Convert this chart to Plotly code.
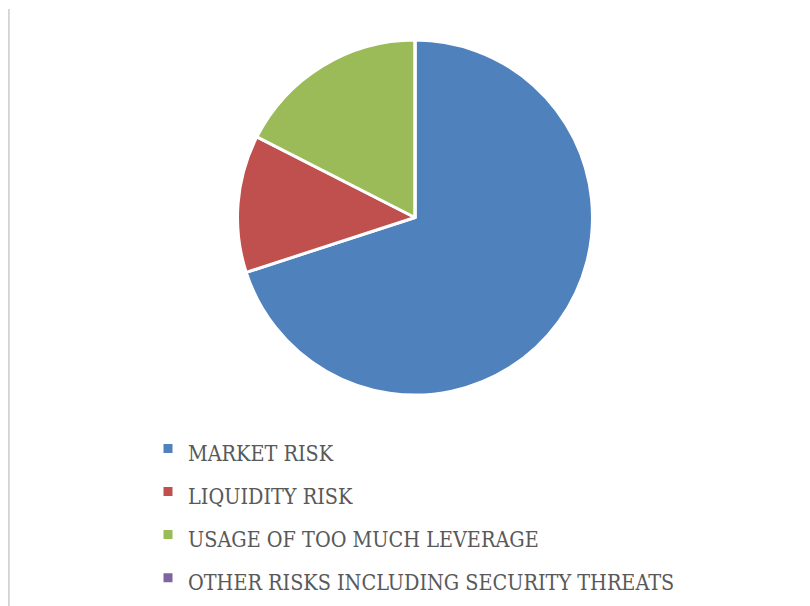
import plotly.graph_objects as go

labels = ["MARKET RISK", "LIQUIDITY RISK", "USAGE OF TOO MUCH LEVERAGE",
          "OTHER RISKS INCLUDING SECURITY THREATS"]
values = [70, 12.5, 17.5, 0]
colors = ["#4F81BD", "#C0504D", "#9BBB59", "#8064A2"]

W, H = 810, 606
TEXT_SIZE = 21.4  # visible legend text size; legend font size below sets the row spacing

legend_text = [f"<span style='font-size:{TEXT_SIZE}px;font-stretch:condensed'>{t}</span>"
               for t in labels]

fig = go.Figure(go.Pie(
    labels=legend_text, values=values, sort=False, direction="clockwise", rotation=0,
    marker=dict(colors=colors, line=dict(color="white", width=3)),
    textinfo="none", hoverinfo="value",
    domain=dict(x=[229.5 / W, 584.5 / W], y=[1 - 387 / H, 1 - 32 / H]),
))

fig.update_layout(
    width=W, height=H,
    margin=dict(l=0, r=0, t=0, b=0),
    paper_bgcolor="white",
    showlegend=True,
    legend=dict(
        x=140 / W, y=1 - 414 / H, xanchor="left", yanchor="top",
        font=dict(family="DejaVu Serif Condensed, DejaVu Serif", size=30.8,
                  color="#595959"),
        bgcolor="rgba(0,0,0,0)",
    ),
    shapes=[dict(type="line", xref="paper", yref="paper",
                 x0=0.8 / W, x1=0.8 / W, y0=0, y1=1 - 1 / H,
                 line=dict(color="#d4d4d4", width=2))],
)

fig.write_html("out.html")
